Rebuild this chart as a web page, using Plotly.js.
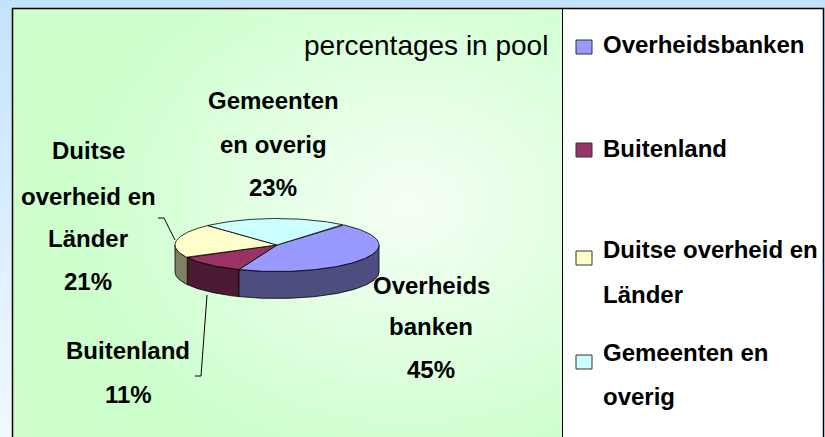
<!DOCTYPE html>
<html>
<head>
<meta charset="utf-8">
<script src="https://cdn.plot.ly/plotly-3.0.1.min.js"></script>
<style>
  html, body { margin: 0; padding: 0; }
  body { width: 825px; height: 437px; overflow: hidden; position: relative;
         background: linear-gradient(to bottom, #c2e3fb 0%, #dcefff 55%, #f2f8ff 100%); }
  #green { position: absolute; left: 13px; top: 9px; width: 549px; height: 440px;
           background: radial-gradient(ellipse 62% 62% at 72% 45%, #f6fff6 0%, #e2ffe2 45%, #ccffcc 100%); }
  #white { position: absolute; left: 563px; top: 9px; width: 260px; height: 440px; background: #ffffff; }
  #chart { position: absolute; left: 0; top: 0; width: 825px; height: 437px; }
</style>
</head>
<body>
<div id="green"></div>
<div id="white"></div>
<div id="chart"></div>
<script>
// ---- data ----
const categories = ['Overheidsbanken', 'Buitenland', 'Duitse overheid en Länder', 'Gemeenten en overig'];
const values = [45, 11, 21, 23];
const legendLines = [['Overheidsbanken'], ['Buitenland'], ['Duitse overheid en', 'Länder'], ['Gemeenten en', 'overig']];
const labelLines = [['Overheids', 'banken'], ['Buitenland'], ['Duitse', 'overheid en', 'Länder'], ['Gemeenten', 'en overig']];
const chartTitle = 'percentages in pool';

// ---- styles ----
const topColors = ['#9999ff', '#993366', '#ffffcc', '#ccffff'];
const sideColors = ['#4d4d80', '#4d1a33', '#808066', '#668080'];

// ---- 3D pie geometry ----
const cx = 277, cy = 245, rx = 102, ry = 26.5, depth = 27, startAngle = 50;
const rad = Math.PI / 180;
function px(t) { return cx + rx * Math.cos(t * rad); }
function py(t, dy) { return cy - ry * Math.sin(t * rad) + (dy || 0); }

const total = values.reduce((a, b) => a + b, 0);
const slices = [];
let a = startAngle;
values.forEach((v, i) => {
  const span = v / total * 360;
  slices.push({ hi: a, lo: a - span, i });
  a -= span;
});

function arc(from, to, dy) {
  const xs = [], ys = [];
  const n = Math.max(2, Math.ceil(Math.abs(to - from)));
  for (let k = 0; k <= n; k++) {
    const t = from + (to - from) * k / n;
    xs.push(px(t)); ys.push(py(t, dy));
  }
  return [xs, ys];
}

const traces = [];
// side walls (front half, t in [-180, 0])
slices.forEach(s => {
  const hi = Math.min(s.hi, 0), lo = Math.max(s.lo, -180);
  if (hi <= lo) return;
  const [x1, y1] = arc(hi, lo, 0);
  const [x2, y2] = arc(lo, hi, depth);
  traces.push({
    type: 'scatter', mode: 'lines', fill: 'toself',
    x: x1.concat(x2, [x1[0]]), y: y1.concat(y2, [y1[0]]),
    fillcolor: sideColors[s.i], line: { color: '#000', width: 0.8 },
    hoverinfo: 'skip', showlegend: false
  });
});
// top faces
slices.forEach(s => {
  const [xa, ya] = arc(s.hi, s.lo, 0);
  traces.push({
    type: 'scatter', mode: 'lines', fill: 'toself',
    x: [cx].concat(xa, [cx]), y: [cy].concat(ya, [cy]),
    fillcolor: topColors[s.i], line: { color: '#000', width: 0.8 },
    hoverinfo: 'skip', showlegend: false
  });
});

// ---- annotations ----
const fontFam = 'Liberation Sans, Arial, sans-serif';
const ann = [];
function txt(x, y, t, size, bold, xanchor) {
  ann.push({ x, y, xref: 'x', yref: 'y', text: t, showarrow: false,
    xanchor: xanchor || 'center', yanchor: 'middle',
    font: { family: fontFam, size, color: '#000', weight: bold ? 'bold' : 'normal' } });
}
txt(550, 45, chartTitle, 28, false, 'right');

// data labels: [x center, y of each line]
const labelPos = [
  [431, [285, 326, 369]],
  [128, [350, 394]],
  [88, [150, 196, 238, 281]],
  [273, [100, 144, 187]]
];
values.forEach((v, i) => {
  const lines = labelLines[i].concat([v + '%']);
  lines.forEach((ln, k) => txt(labelPos[i][0], labelPos[i][1][k], ln, 24, true));
});

// legend
const legendY = [[44], [148], [249, 294], [352, 396]];
const squareY = [47, 150, 258, 362];
const shapes = [];
categories.forEach((c, i) => {
  legendLines[i].forEach((ln, k) => txt(601, legendY[i][k], ln, 24, true, 'left'));
  shapes.push({ type: 'rect', xref: 'x', yref: 'y', x0: 576, x1: 592,
    y0: squareY[i] - 7, y1: squareY[i] + 7, fillcolor: topColors[i],
    line: { color: '#333', width: 1 } });
});

// frame + divider
shapes.push({ type: 'rect', xref: 'x', yref: 'y', x0: 12.5, y0: 8.5, x1: 823.5, y1: 460,
  line: { color: '#000', width: 1.5 }, fillcolor: 'rgba(0,0,0,0)' });
shapes.push({ type: 'line', xref: 'x', yref: 'y', x0: 562.5, y0: 8.5, x1: 562.5, y1: 460,
  line: { color: '#000', width: 1 } });
// leader lines
shapes.push({ type: 'path', xref: 'x', yref: 'y', path: 'M158,218 L164,218 L175,240',
  line: { color: '#000', width: 1 } });
shapes.push({ type: 'path', xref: 'x', yref: 'y', path: 'M207,295 L201,376 L195,376',
  line: { color: '#000', width: 1 } });

const layout = {
  width: 825, height: 437,
  margin: { l: 0, r: 0, t: 0, b: 0 },
  paper_bgcolor: 'rgba(0,0,0,0)', plot_bgcolor: 'rgba(0,0,0,0)',
  xaxis: { range: [0, 825], visible: false, fixedrange: true },
  yaxis: { range: [437, 0], visible: false, fixedrange: true },
  showlegend: false,
  annotations: ann, shapes: shapes
};
Plotly.newPlot('chart', traces, layout, { staticPlot: true, displayModeBar: false });
</script>
</body>
</html>
